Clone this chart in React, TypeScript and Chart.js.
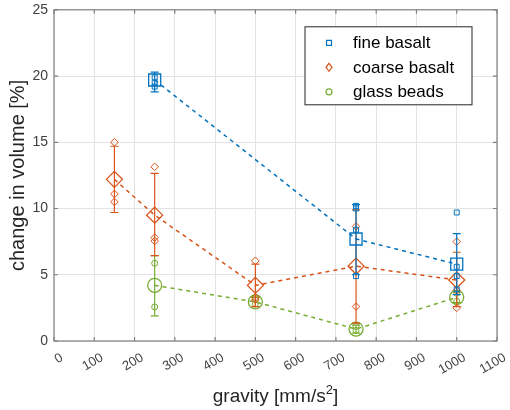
import React, { useEffect, useRef } from 'react';
import { Chart, registerables } from 'chart.js';

Chart.register(...registerables);

// fine basalt
const fineX = [250, 750, 1000];
const fineMean = [19.7, 7.7, 5.8];
const fineLo = [18.8, 5.0, 3.5];
const fineHi = [20.3, 10.3, 8.1];
const fineSamples = [
  [19.9, 19.5, 19.2],
  [10.2, 10.0, 8.4, 4.9],
  [9.7, 5.6, 4.9, 3.9],
];

// coarse basalt
const coarseX = [150, 250, 500, 750, 1000];
const coarseMean = [12.2, 9.5, 4.2, 5.65, 4.6];
const coarseLo = [9.7, 6.45, 2.6, 1.35, 2.6];
const coarseHi = [14.7, 12.65, 5.8, 9.9, 6.7];
const coarseSamples = [
  [15.0, 11.1, 10.5],
  [13.15, 7.8, 7.55],
  [6.05, 3.3, 3.1],
  [8.65, 2.6],
  [7.5, 3.8, 2.5],
];

// glass beads
const glassX = [250, 500, 750, 1000];
const glassMean = [4.2, 2.95, 0.9, 3.3];
const glassLo = [1.9, 2.6, 0.6, 2.9];
const glassHi = [6.45, 3.3, 1.2, 3.7];
const glassSamples = [
  [5.87, 2.57],
  [3.2, 2.8],
  [1.1, 0.8],
  [3.6, 3.0],
];

const seriesNames = ['fine basalt', 'coarse basalt', 'glass beads'];
const BLUE = '#0072BD';
const ORANGE = '#D95319';
const GREEN = '#77AC30';
const FONT = "'Liberation Sans', Arial, sans-serif";

type Pt = { x: number; y: number };

function meanPts(xs: number[], ys: number[]): Pt[] {
  return xs.map((x, i) => ({ x, y: ys[i] }));
}
function errPts(xs: number[], lo: number[], hi: number[]): Pt[] {
  const out: Pt[] = [];
  xs.forEach((x, i) => {
    out.push({ x, y: lo[i] }, { x, y: hi[i] }, { x, y: NaN });
  });
  return out;
}
function samplePts(xs: number[], s: number[][]): Pt[] {
  const out: Pt[] = [];
  xs.forEach((x, i) => s[i].forEach((y) => out.push({ x, y })));
  return out;
}

function seriesSets(xs: number[], mean: number[], lo: number[], hi: number[], s: number[][], color: string, style: string, bigR: number, smallR: number) {
  return [
    { data: meanPts(xs, mean), showLine: true, borderColor: color, borderWidth: 1.5, borderDash: [4, 4], pointRadius: 0, fill: false },
    { data: errPts(xs, lo, hi), showLine: true, spanGaps: false, borderColor: color, borderWidth: 1.2, pointStyle: 'line', pointRadius: 4, pointBorderColor: color, pointBorderWidth: 1.2 },
    { data: samplePts(xs, s), showLine: false, pointStyle: style, pointRadius: smallR, pointBorderColor: color, pointBackgroundColor: 'rgba(0,0,0,0)', pointBorderWidth: 1 },
    { data: meanPts(xs, mean), showLine: false, pointStyle: style, pointRadius: bigR, pointBorderColor: color, pointBackgroundColor: 'rgba(0,0,0,0)', pointBorderWidth: 1.3 },
  ];
}

const framePlugin = {
  id: 'frame',
  afterDraw(chart: any) {
    const { ctx, chartArea: a, scales } = chart;
    ctx.save();
    ctx.strokeStyle = '#808080';
    ctx.lineWidth = 1.2;
    ctx.strokeRect(a.left, a.top, a.right - a.left, a.bottom - a.top);
    ctx.beginPath();
    scales.x.ticks.forEach((t: any) => {
      const px = scales.x.getPixelForValue(t.value);
      ctx.moveTo(px, a.bottom); ctx.lineTo(px, a.bottom - 4);
      ctx.moveTo(px, a.top); ctx.lineTo(px, a.top + 4);
    });
    scales.y.ticks.forEach((t: any) => {
      const py = scales.y.getPixelForValue(t.value);
      ctx.moveTo(a.left, py); ctx.lineTo(a.left + 4, py);
      ctx.moveTo(a.right, py); ctx.lineTo(a.right - 4, py);
    });
    ctx.stroke();

    // x axis title with superscript
    ctx.fillStyle = '#262626';
    ctx.textBaseline = 'alphabetic';
    ctx.textAlign = 'left';
    const main = `19px ${FONT}`;
    const sup = `13px ${FONT}`;
    const p1 = 'gravity [mm/s', p2 = '2', p3 = ']';
    ctx.font = main;
    const w1 = ctx.measureText(p1).width, w3 = ctx.measureText(p3).width;
    ctx.font = sup;
    const w2 = ctx.measureText(p2).width;
    let tx = (a.left + a.right) / 2 - (w1 + w2 + w3) / 2;
    const base = 402;
    ctx.font = main; ctx.fillText(p1, tx, base); tx += w1;
    ctx.font = sup; ctx.fillText(p2, tx, base - 8); tx += w2;
    ctx.font = main; ctx.fillText(p3, tx, base);

    // legend
    const lx = a.right - 192, ly = a.top + 17, lw = 167, lh = 78;
    ctx.fillStyle = '#ffffff';
    ctx.fillRect(lx, ly, lw, lh);
    ctx.strokeStyle = '#262626';
    ctx.lineWidth = 1;
    ctx.strokeRect(lx, ly, lw, lh);
    ctx.textBaseline = 'middle';
    const colors = [BLUE, ORANGE, GREEN];
    seriesNames.forEach((name, i) => {
      const cy = ly + 16 + i * 24.5;
      const cx = lx + 24;
      ctx.strokeStyle = colors[i];
      ctx.lineWidth = 1.2;
      ctx.beginPath();
      if (i === 0) ctx.rect(cx - 2.5, cy - 2.5, 5, 5);
      else if (i === 1) { ctx.moveTo(cx, cy - 4); ctx.lineTo(cx + 3, cy); ctx.lineTo(cx, cy + 4); ctx.lineTo(cx - 3, cy); ctx.closePath(); }
      else ctx.arc(cx, cy, 3, 0, Math.PI * 2);
      ctx.stroke();
      ctx.fillStyle = '#000000';
      ctx.font = `17px ${FONT}`;
      ctx.textAlign = 'left';
      ctx.fillText(name, lx + 48, cy + 1);
    });
    ctx.restore();
  },
};

export default function App() {
  const ref = useRef<HTMLCanvasElement>(null);
  useEffect(() => {
    if (!ref.current) return;
    Chart.defaults.font.family = FONT;
    const chart = new Chart(ref.current, {
      type: 'scatter',
      data: {
        datasets: [
          ...seriesSets(fineX, fineMean, fineLo, fineHi, fineSamples, BLUE, 'rect', 8.5, 3.5),
          ...seriesSets(coarseX, coarseMean, coarseLo, coarseHi, coarseSamples, ORANGE, 'rectRot', 8, 3.8),
          ...seriesSets(glassX, glassMean, glassLo, glassHi, glassSamples, GREEN, 'circle', 7, 3),
        ] as any,
      },
      options: {
        animation: false,
        responsive: true,
        maintainAspectRatio: false,
        layout: { padding: { left: 0, top: 8, right: 13, bottom: 0 } },
        plugins: { legend: { display: false }, tooltip: { enabled: false } },
        scales: {
          x: {
            type: 'linear', min: 0, max: 1100,
            afterFit: (s: any) => { s.height = 69; s.paddingLeft = 0; s.paddingRight = 0; },
            ticks: { stepSize: 100, minRotation: 30, maxRotation: 30, padding: 9, labelOffset: 8, color: '#404040', font: { size: 13 }, callback: (v: any) => String(v) },
            grid: { color: '#e3e3e3', drawTicks: false },
            border: { display: false },
          },
          y: {
            min: 0, max: 25,
            afterFit: (s: any) => { s.width = 54; s.paddingTop = 0; s.paddingBottom = 0; },
            ticks: { stepSize: 5, padding: 6, color: '#404040', font: { size: 14 } },
            grid: { color: '#e3e3e3', drawTicks: false },
            border: { display: false },
            title: { display: true, text: 'change in volume [%]', color: '#262626', font: { size: 20 }, padding: { top: 6, bottom: 0 } },
          },
        },
      },
      plugins: [framePlugin],
    });
    return () => chart.destroy();
  }, []);
  return (
    <div style={{ position: 'fixed', left: 0, top: 0, width: 510, height: 410, background: '#fff' }}>
      <canvas ref={ref} />
    </div>
  );
}
